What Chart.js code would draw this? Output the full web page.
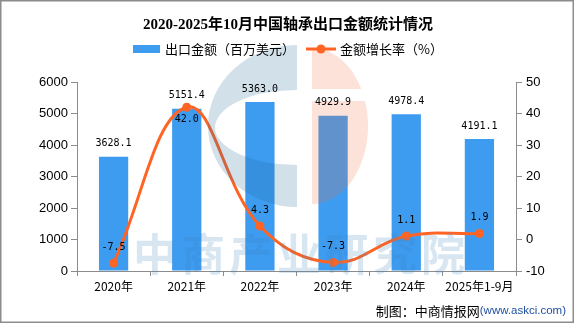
<!DOCTYPE html>
<html>
<head>
<meta charset="utf-8">
<script src="https://cdn.jsdelivr.net/npm/chart.js@4.4.1/dist/chart.umd.min.js"></script>
<style>
  html, body { margin: 0; padding: 0; background: #fff; }
  canvas { display: block; }
</style>
</head>
<body>
<canvas id="chart" width="576" height="324"></canvas>
<script>
// 年份与数据
const years = ['2020年', '2021年', '2022年', '2023年', '2024年', '2025年1-9月'];
const exportValue = [3628.1, 5151.4, 5363.0, 4929.9, 4978.4, 4191.1];   // 百万美元
const growthRate = [-7.5, 42.0, 4.3, -7.3, 1.1, 1.9];                  // %
const valueAxis = [0, 6000, 1000];   // min, max, step
const rateAxis = [-10, 50, 10];

const BLUE = '#3D9CF0';
const ORANGE = '#FF6424';
const AXIS = '#8c8c8c';
const CJK = '"Noto Sans CJK SC", sans-serif';

// 水印：中商产业研究院 logo + 文字
const watermark = {
  id: 'watermark',
  afterDatasetsDraw(chart) {
    const off = document.createElement('canvas');
    off.width = chart.width;
    off.height = chart.height;
    const o = off.getContext('2d');

    // 蓝色 C 形
    o.fillStyle = 'rgb(30,100,150)';
    o.beginPath();
    o.ellipse(297, 126, 89, 81, 0, Math.PI / 2, Math.PI * 1.5);
    o.closePath();
    o.fill();
    o.globalCompositeOperation = 'destination-out';
    o.beginPath();
    o.ellipse(297, 127.5, 82, 37.5, 0, Math.PI / 2, Math.PI * 1.5);
    o.closePath();
    o.fill();

    // 橙色半圆
    o.globalCompositeOperation = 'source-over';
    o.fillStyle = 'rgb(240,110,60)';
    o.beginPath();
    o.ellipse(312, 126, 56, 78, 0, -Math.PI / 2, Math.PI / 2);
    o.closePath();
    o.fill();
    o.globalCompositeOperation = 'destination-out';
    o.fillRect(312, 89, 60, 12);
    o.globalCompositeOperation = 'source-over';

    // 文字
    o.fillStyle = 'rgb(60,130,190)';
    o.font = 'bold 44px ' + CJK;
    o.textAlign = 'center';
    o.textBaseline = 'middle';
    '中商产业研究院'.split('').forEach((ch, i) => o.fillText(ch, 155 + i * 48, 254));

    const ctx = chart.ctx;
    ctx.save();
    ctx.globalAlpha = 0.2;
    ctx.drawImage(off, 0, 0);
    ctx.restore();
  }
};

// 数值标签
const valueLabels = {
  id: 'valueLabels',
  afterDatasetsDraw(chart) {
    const ctx = chart.ctx;
    ctx.save();
    ctx.font = '10px "DejaVu Sans Mono", monospace';
    ctx.fillStyle = '#000';
    ctx.textAlign = 'center';

    ctx.textBaseline = 'bottom';
    chart.getDatasetMeta(0).data.forEach((bar, i) => {
      ctx.fillText(exportValue[i].toFixed(1), bar.x, bar.y - 8);
    });

    const peak = Math.max(...growthRate);
    chart.getDatasetMeta(1).data.forEach((pt, i) => {
      const v = growthRate[i];
      if (v === peak) {
        ctx.textBaseline = 'top';
        ctx.fillText(v.toFixed(1), pt.x, pt.y + 7);
      } else {
        ctx.textBaseline = 'bottom';
        ctx.fillText(v.toFixed(1), pt.x, pt.y - 11);
      }
    });
    ctx.restore();
  }
};

// 标题、图例、来源和外框
const frame = {
  id: 'frame',
  afterDraw(chart) {
    const ctx = chart.ctx;
    ctx.save();

    ctx.fillStyle = '#000';
    ctx.textAlign = 'center';
    ctx.textBaseline = 'middle';
    ctx.font = 'bold 15px "Liberation Serif", ' + CJK;
    ctx.fillText('2020-2025年10月中国轴承出口金额统计情况', 288, 25);

    // 图例
    ctx.font = '13px ' + CJK;
    ctx.textAlign = 'left';
    ctx.fillStyle = BLUE;
    ctx.fillRect(133, 45, 27, 8);
    ctx.fillStyle = '#000';
    ctx.fillText(chart.data.datasets[0].label, 165, 49);

    ctx.strokeStyle = ORANGE;
    ctx.lineWidth = 3;
    ctx.beginPath();
    ctx.moveTo(306, 49);
    ctx.lineTo(336, 49);
    ctx.stroke();
    ctx.fillStyle = ORANGE;
    ctx.beginPath();
    ctx.arc(321, 49, 4.5, 0, Math.PI * 2);
    ctx.fill();
    ctx.fillStyle = '#000';
    ctx.fillText(chart.data.datasets[1].label, 340, 49);

    // 来源
    const site = '(www.askci.com)';
    ctx.textAlign = 'right';
    ctx.font = '11.5px "Liberation Sans", sans-serif';
    ctx.fillStyle = '#1F4FA0';
    ctx.fillText(site, 566, 311);
    const w = ctx.measureText(site).width;
    ctx.font = '13px ' + CJK;
    ctx.fillStyle = '#000';
    ctx.fillText('制图：中商情报网', 566 - w, 311);

    // 外框
    ctx.strokeStyle = AXIS;
    ctx.lineWidth = 1.5;
    ctx.strokeRect(0.75, 0.75, 572.5, 321.5);
    ctx.restore();
  }
};

const plainTick = (v) => String(v);

new Chart(document.getElementById('chart'), {
  type: 'bar',
  data: {
    labels: years,
    datasets: [
      {
        type: 'bar',
        label: '出口金额（百万美元）',
        data: exportValue,
        backgroundColor: BLUE,
        barPercentage: 0.4,
        categoryPercentage: 1,
        yAxisID: 'y',
        order: 2
      },
      {
        type: 'line',
        label: '金额增长率（%）',
        data: growthRate,
        borderColor: ORANGE,
        backgroundColor: ORANGE,
        borderWidth: 3,
        pointRadius: 4.5,
        pointBorderWidth: 0,
        pointBackgroundColor: ORANGE,
        tension: 0.4,
        clip: false,
        yAxisID: 'y1',
        order: 1
      }
    ]
  },
  options: {
    responsive: false,
    animation: false,
    devicePixelRatio: 1,
    layout: { padding: { top: 82, left: 0, right: 0, bottom: 0 } },
    plugins: {
      legend: { display: false },
      title: { display: false },
      tooltip: { enabled: false }
    },
    scales: {
      x: {
        grid: { drawOnChartArea: false, drawTicks: true, tickLength: 5, color: AXIS, offset: true },
        border: { display: true, color: AXIS },
        ticks: { color: '#000', font: { family: 'Noto Sans CJK SC', size: 12 }, padding: 3, maxRotation: 0, autoSkip: false },
        afterFit(scale) { scale.height = 53; }
      },
      y: {
        position: 'left',
        min: valueAxis[0],
        max: valueAxis[1],
        grid: { drawOnChartArea: false, tickLength: 6, color: AXIS },
        border: { display: true, color: AXIS },
        ticks: { stepSize: valueAxis[2], callback: plainTick, color: '#000', font: { family: 'Liberation Sans', size: 13 }, padding: 3 },
        afterFit(scale) { scale.width = 77; }
      },
      y1: {
        position: 'right',
        min: rateAxis[0],
        max: rateAxis[1],
        grid: { drawOnChartArea: false, tickLength: 6, color: AXIS },
        border: { display: true, color: AXIS },
        ticks: { stepSize: rateAxis[2], callback: plainTick, color: '#000', font: { family: 'Liberation Sans', size: 13 }, padding: 4 },
        afterFit(scale) { scale.width = 60; }
      }
    }
  },
  plugins: [watermark, valueLabels, frame]
});
</script>
</body>
</html>
